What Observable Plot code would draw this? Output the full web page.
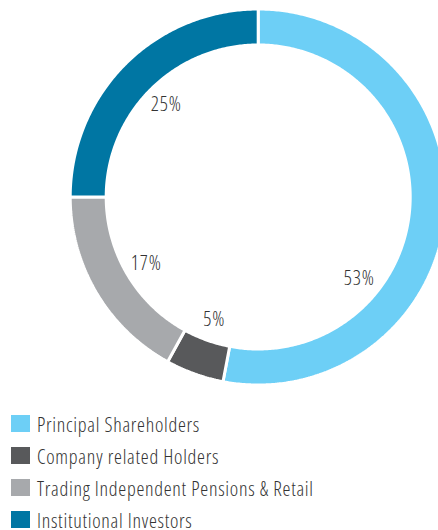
<!DOCTYPE html>
<html>
<head>
<meta charset="utf-8">
<script src="https://cdn.jsdelivr.net/npm/d3@7"></script>
<script src="https://cdn.jsdelivr.net/npm/@observablehq/plot@0.6"></script>
<style>
  html, body { margin: 0; padding: 0; background: #fff; }
  body { width: 438px; height: 530px; overflow: hidden; font-family: "Open Sans", sans-serif; }
  #legend { position: absolute; left: 0; top: 395px; width: 438px; }
  .sw { position: absolute; left: 11px; width: 19px; height: 17px; }
  .lb { position: absolute; left: 37px; white-space: nowrap; font-size: 20px; font-weight: 300; font-stretch: 75%; letter-spacing: 0.72px; color: #333; line-height: 20px; }
</style>
</head>
<body>
<div id="chart"></div>
<div id="legend"></div>
<script>
const categories = ["Principal Shareholders", "Company related Holders", "Trading Independent Pensions & Retail", "Institutional Investors"];
const values = [53, 5, 17, 25];
const labels = ["53%", "5%", "17%", "25%"];
const colors = ["#6dcff6", "#58595b", "#a7a9ac", "#0076a3"];

const W = 438, H = 395;
const cx = 257.7, cy = 196.5, unit = 186.5;
const rOuter = 188 / unit, rInner = 152 / unit, rLabel = 130 / unit;
const labelFrac = [0.676, 0.5, 0.5, 0.5];

const total = d3.sum(values);
let acc = 0;
const slices = values.map((v, i) => {
  const a0 = acc / total * 2 * Math.PI;
  acc += v;
  const a1 = acc / total * 2 * Math.PI;
  return {cat: categories[i], a0, a1, i};
});

const pts = [];
for (const s of slices) {
  const n = Math.max(8, Math.ceil((s.a1 - s.a0) / 0.01));
  for (let k = 0; k <= n; k++) {
    const a = s.a0 + (s.a1 - s.a0) * k / n;
    pts.push({cat: s.cat, x: rOuter * Math.sin(a), y: rOuter * Math.cos(a)});
  }
  for (let k = n; k >= 0; k--) {
    const a = s.a0 + (s.a1 - s.a0) * k / n;
    pts.push({cat: s.cat, x: rInner * Math.sin(a), y: rInner * Math.cos(a)});
  }
  pts.push({cat: s.cat, x: rOuter * Math.sin(s.a0), y: rOuter * Math.cos(s.a0)});
}

const labelPts = slices.map((s, i) => {
  const a = s.a0 + (s.a1 - s.a0) * labelFrac[i];
  return {text: labels[i], x: rLabel * Math.sin(a), y: rLabel * Math.cos(a)};
});

const chart = Plot.plot({
  width: W,
  height: H,
  margin: 0,
  x: {domain: [-cx / unit, (W - cx) / unit], axis: null},
  y: {domain: [-(H - cy) / unit, cy / unit], axis: null},
  color: {domain: categories, range: colors},
  style: {fontFamily: '"Open Sans", sans-serif', overflow: "visible"},
  marks: [
    Plot.line(pts, {x: "x", y: "y", z: "cat", fill: "cat", stroke: "white", strokeWidth: 3, strokeLinejoin: "miter", curve: "linear"}),
    Plot.text(labelPts, {x: "x", y: "y", text: "text", fontSize: 20, fontWeight: 300, fill: "#333"})
  ]
});
chart.querySelectorAll("text").forEach(t => { t.style.fontStretch = "75%"; t.style.letterSpacing = "0.9px"; });
document.getElementById("chart").appendChild(chart);

const legend = document.getElementById("legend");
categories.forEach((c, i) => {
  const top = 20 + i * 32;
  const sw = document.createElement("div");
  sw.className = "sw";
  sw.style.top = top + "px";
  sw.style.background = colors[i];
  legend.appendChild(sw);
  const lb = document.createElement("div");
  lb.className = "lb";
  lb.style.top = top + "px";
  lb.textContent = c;
  legend.appendChild(lb);
});
</script>
</body>
</html>
